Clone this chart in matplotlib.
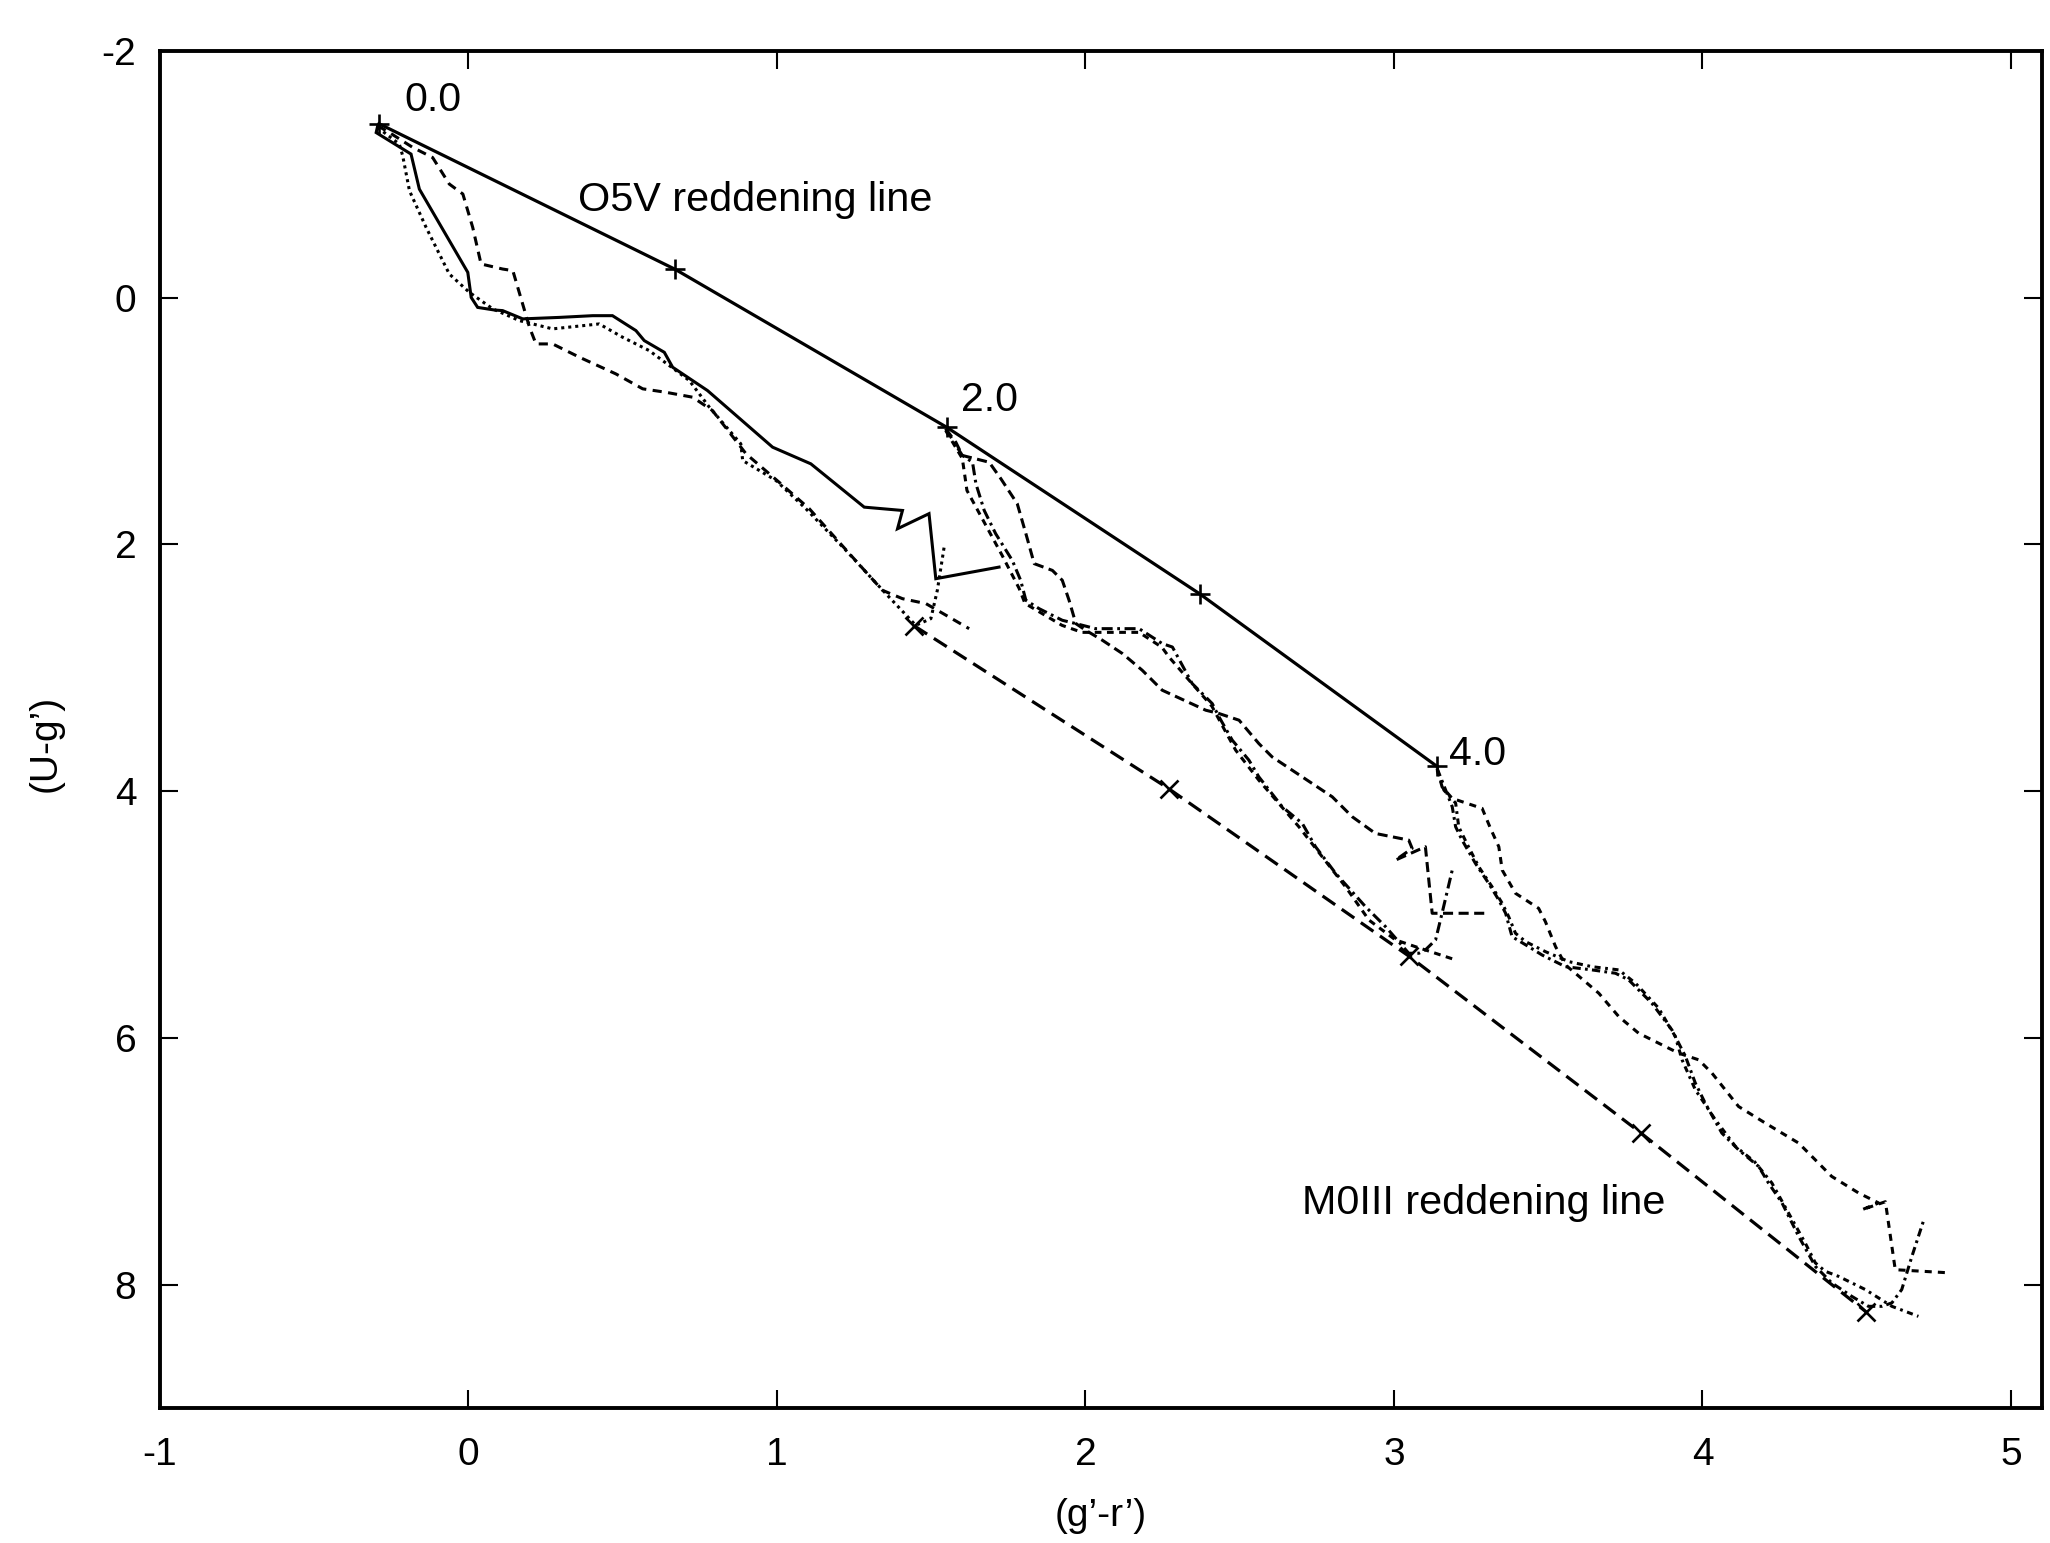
import matplotlib
matplotlib.use('Agg')
import matplotlib.pyplot as plt

plt.rcParams['font.family'] = ['Liberation Sans', 'DejaVu Sans']

# ---------------- data ----------------
# O5V reddening line, markers at reddening steps
o5v_x = [-0.29, 0.67, 1.55, 2.37, 3.14]
o5v_y = [-1.41, -0.23, 1.05, 2.40, 3.80]
# M0III reddening line
m0_x = [1.445, 2.27, 3.05, 3.80, 4.53]
m0_y = [2.66, 3.98, 5.34, 6.77, 8.22]

# reddening labels
red_labels = ['0.0', '2.0', '4.0']
red_lab_x = [-0.207, 1.597, 3.178]
red_lab_y = [-1.514, 0.915, 3.789]

# group 1 tracks (reddening 0.0)
g1_solid_x = [-0.294, -0.299, -0.186, -0.159, -0.002, 0.009, 0.030, 0.084, 0.111, 0.176, 0.295,
              0.403, 0.467, 0.543, 0.570, 0.635, 0.662, 0.775, 0.986, 1.110, 1.283, 1.407,
              1.391, 1.493, 1.515, 1.720]
g1_solid_y = [-1.393, -1.338, -1.164, -0.880, -0.205, -0.002, 0.079, 0.100, 0.105, 0.172, 0.160,
              0.146, 0.146, 0.267, 0.348, 0.443, 0.564, 0.753, 1.212, 1.347, 1.698, 1.725,
              1.873, 1.751, 2.278, 2.184]

g1_dot_x = [-0.294, -0.224, -0.213, -0.191, -0.137, -0.062, 0.003, 0.079, 0.165, 0.273, 0.424,
            0.500, 0.586, 0.673, 0.716, 0.781, 0.883, 0.889, 0.997, 1.094, 1.224, 1.353,
            1.450, 1.499, 1.520, 1.542]
g1_dot_y = [-1.379, -1.245, -1.150, -0.866, -0.569, -0.192, -0.043, 0.091, 0.186, 0.253, 0.213,
            0.321, 0.429, 0.591, 0.672, 0.888, 1.185, 1.320, 1.482, 1.711, 2.049, 2.399,
            2.656, 2.602, 2.372, 2.022]

g1_dash_x = [-0.294, -0.256, -0.180, -0.116, -0.062, -0.018, 0.014, 0.041, 0.111, 0.144, 0.198,
             0.219, 0.273, 0.360, 0.478, 0.565, 0.640, 0.727, 0.791, 0.900, 1.007, 1.105,
             1.245, 1.342, 1.407, 1.483, 1.623]
g1_dash_y = [-1.393, -1.338, -1.217, -1.136, -0.921, -0.840, -0.569, -0.273, -0.232, -0.219, 0.240,
             0.375, 0.375, 0.483, 0.618, 0.739, 0.767, 0.807, 0.915, 1.266, 1.496, 1.711,
             2.103, 2.372, 2.440, 2.480, 2.683]

# group 2 tracks (reddening 2.0)
g2a_x = [1.547, 1.580, 1.601, 1.688, 1.726, 1.779, 1.807, 1.834, 1.893, 1.925, 1.947, 1.969,
         2.001, 2.055, 2.120, 2.184, 2.249, 2.390, 2.433, 2.498, 2.562, 2.605, 2.670, 2.800,
         2.865, 2.940, 3.048, 3.059, 3.005, 3.102, 3.124, 3.297]
g2a_y = [1.063, 1.172, 1.279, 1.334, 1.468, 1.670, 1.913, 2.156, 2.211, 2.291, 2.453, 2.642,
         2.696, 2.777, 2.885, 3.020, 3.182, 3.344, 3.371, 3.425, 3.614, 3.722, 3.830, 4.046,
         4.208, 4.343, 4.397, 4.464, 4.559, 4.451, 4.990, 4.990]

g2b_x = [1.547, 1.601, 1.634, 1.645, 1.672, 1.709, 1.763, 1.790, 1.807, 1.850, 1.925, 1.969,
         2.033, 2.174, 2.249, 2.282, 2.346, 2.411, 2.433, 2.476, 2.530, 2.562, 2.638, 2.703,
         2.746, 2.811, 2.908, 2.973, 3.048, 3.081, 3.102, 3.135, 3.156, 3.189]
g2b_y = [1.063, 1.279, 1.334, 1.508, 1.725, 1.913, 2.130, 2.291, 2.453, 2.521, 2.615, 2.642,
         2.683, 2.683, 2.804, 2.832, 3.128, 3.290, 3.398, 3.587, 3.749, 3.884, 4.127, 4.262,
         4.451, 4.666, 4.937, 5.099, 5.314, 5.314, 5.287, 5.206, 4.990, 4.640]

g2c_x = [1.547, 1.601, 1.616, 1.665, 1.730, 1.785, 1.804, 1.924, 1.989, 2.174, 2.248, 2.271,
         2.336, 2.410, 2.443, 2.487, 2.562, 2.692, 2.843, 2.919, 3.005, 3.070, 3.200]
g2c_y = [1.077, 1.304, 1.563, 1.789, 2.089, 2.356, 2.478, 2.656, 2.713, 2.713, 2.834, 2.913,
         3.101, 3.312, 3.466, 3.668, 3.911, 4.289, 4.775, 5.045, 5.206, 5.261, 5.368]

# group 3 tracks (reddening 4.0)
g3a_x = [3.140, 3.156, 3.189, 3.286, 3.313, 3.340, 3.351, 3.394, 3.469, 3.491, 3.524, 3.556,
         3.588, 3.664, 3.729, 3.793, 3.858, 3.923, 3.988, 4.031, 4.117, 4.204, 4.312, 4.419,
         4.506, 4.571, 4.517, 4.593, 4.625, 4.803]
g3a_y = [3.816, 3.965, 4.059, 4.140, 4.302, 4.451, 4.640, 4.828, 4.950, 5.058, 5.261, 5.409,
         5.476, 5.638, 5.828, 5.962, 6.043, 6.124, 6.178, 6.286, 6.556, 6.691, 6.853, 7.123,
         7.257, 7.338, 7.393, 7.328, 7.879, 7.905]

g3b_x = [3.140, 3.178, 3.189, 3.200, 3.221, 3.264, 3.307, 3.340, 3.362, 3.383, 3.437, 3.480,
         3.556, 3.642, 3.718, 3.761, 3.836, 3.901, 3.945, 3.977, 4.009, 4.063, 4.117, 4.182,
         4.214, 4.258, 4.312, 4.366, 4.419, 4.484, 4.538, 4.582, 4.614, 4.646, 4.679, 4.716]
g3b_y = [3.816, 4.057, 4.127, 4.289, 4.397, 4.585, 4.747, 4.883, 4.990, 5.180, 5.261, 5.328,
         5.423, 5.449, 5.476, 5.530, 5.719, 5.935, 6.151, 6.367, 6.529, 6.772, 6.907, 7.042,
         7.176, 7.338, 7.609, 7.852, 7.986, 8.095, 8.176, 8.176, 8.148, 8.040, 7.771, 7.487]

g3c_x = [3.140, 3.162, 3.200, 3.210, 3.236, 3.275, 3.318, 3.351, 3.372, 3.394, 3.427, 3.491,
         3.567, 3.642, 3.729, 3.783, 3.858, 3.912, 3.934, 3.977, 4.042, 4.107, 4.169, 4.225,
         4.279, 4.333, 4.366, 4.398, 4.441, 4.528, 4.614, 4.700]
g3c_y = [3.830, 3.992, 4.097, 4.289, 4.423, 4.613, 4.775, 4.909, 5.018, 5.152, 5.220, 5.301,
         5.382, 5.423, 5.449, 5.557, 5.759, 5.989, 6.178, 6.421, 6.664, 6.880, 7.004, 7.176,
         7.419, 7.662, 7.824, 7.892, 7.933, 8.040, 8.176, 8.257]

x_ticks = [-1, 0, 1, 2, 3, 4, 5]
y_ticks = [-2, 0, 2, 4, 6, 8]

# ---------------- figure ----------------
fig = plt.figure(figsize=(20.5, 15.43), dpi=100)
ax = fig.add_axes([0.078, 0.0875, 0.918, 0.8795])

LW = 2.2
tracks = [
    (g1_solid_x, g1_solid_y, '-'),
    (g1_dot_x, g1_dot_y, (0, (1.0, 1.3))),
    (g1_dash_x, g1_dash_y, (0, (3.0, 2.1))),
    (g2a_x, g2a_y, (0, (3.3, 1.8))),
    (g2b_x, g2b_y, (0, (3.6, 1.5, 0.9, 1.5))),
    (g2c_x, g2c_y, (0, (2.2, 1.8))),
    (g3a_x, g3a_y, (0, (2.3, 2.0))),
    (g3b_x, g3b_y, (0, (2.7, 1.4, 0.9, 1.4))),
    (g3c_x, g3c_y, (0, (2.0, 1.5, 0.9, 1.5))),
]
for xs, ys, ls in tracks:
    ax.plot(xs, ys, color='black', lw=LW, linestyle=ls, solid_joinstyle='miter')

ax.plot(o5v_x, o5v_y, color='black', lw=2.3, linestyle='-', marker='+',
        markersize=14, markeredgewidth=1.9)
ax.plot(m0_x, m0_y, color='black', lw=2.3, linestyle=(0, (4.8, 2.5)), marker='x',
        markersize=13, markeredgewidth=1.9)

for lab, lx, ly in zip(red_labels, red_lab_x, red_lab_y):
    ax.text(lx, ly, lab, fontsize=29.5, ha='left', va='baseline')
ax.text(0.356, -0.70, 'O5V reddening line', fontsize=29.8, ha='left', va='baseline')
ax.text(2.702, 7.43, 'M0III reddening line', fontsize=29.8, ha='left', va='baseline')

ax.set_xlim(-1, 5.1)
ax.set_ylim(9, -2)
ax.set_xticks(x_ticks)
ax.set_yticks(y_ticks)
ax.set_xticklabels([str(t) for t in x_ticks])
ax.set_yticklabels([str(t) for t in y_ticks])
ax.tick_params(direction='in', length=13, width=1.5, top=True, right=True, labelsize=28)
ax.tick_params(axis='x', pad=21)
ax.tick_params(axis='y', pad=17)
for sp in ax.spines.values():
    sp.set_linewidth(2.8)

ax.set_xlabel('(g\u2019-r\u2019)', fontsize=28)
ax.set_ylabel('(U-g\u2019)', fontsize=28)
ax.xaxis.set_label_coords(0.5, -0.066)
ax.yaxis.set_label_coords(-0.051, 0.49)

fig.savefig('out.png', dpi=100)
